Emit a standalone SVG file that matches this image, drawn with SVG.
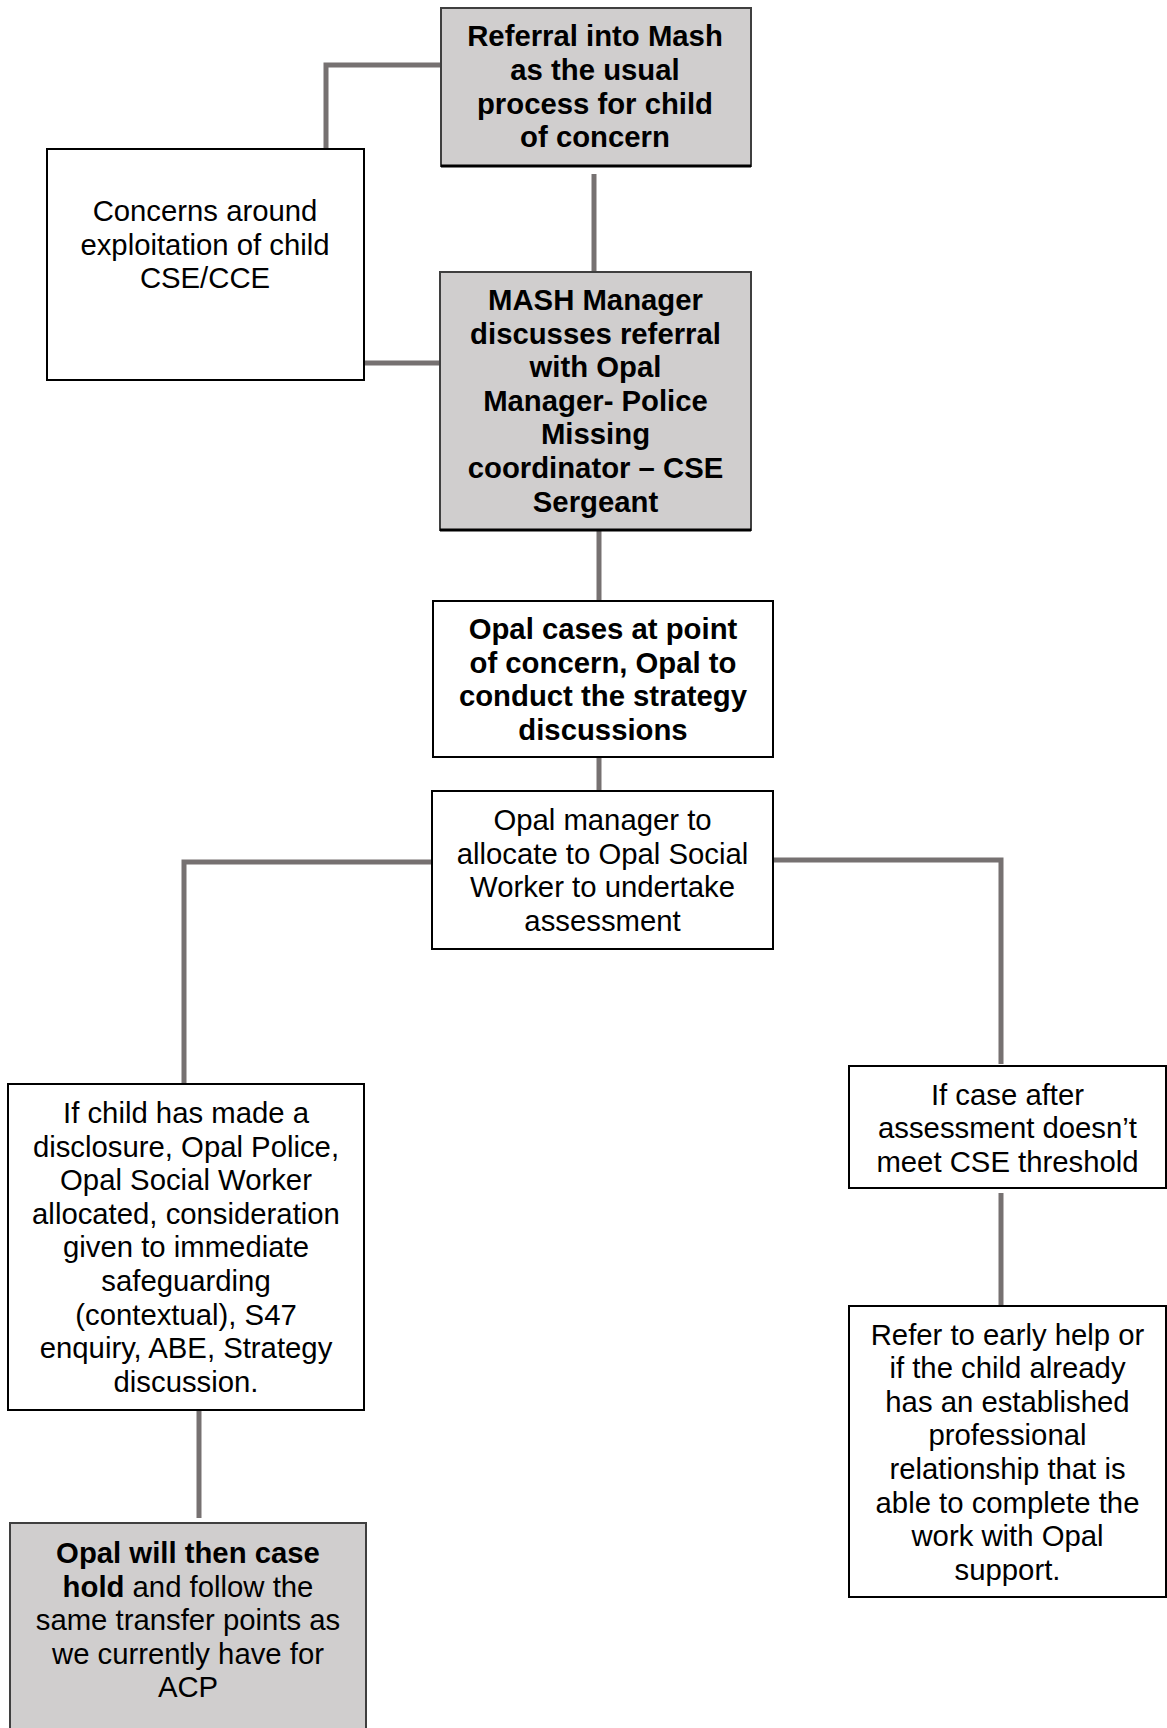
<svg xmlns="http://www.w3.org/2000/svg" width="1167" height="1728" viewBox="0 0 1167 1728">
<style>
.box{fill:#ffffff;stroke:#000000;stroke-width:2}
.gbox{fill:#d0cece;stroke:#3f3f3f;stroke-width:2}
.shadow{stroke:#000000;stroke-width:3}
.conn{fill:none;stroke:#767171;stroke-width:5;stroke-linejoin:miter}
text{font-family:"Liberation Sans",Arial,sans-serif;font-size:29.3px;fill:#000000;text-anchor:middle}
.b{font-weight:bold}
</style>
<rect width="1167" height="1728" fill="#ffffff"/>
<g id="connectors">
<path class="conn" d="M441,65 H326 V149"/>
<path class="conn" d="M594,174 V272"/>
<path class="conn" d="M364,363 H440"/>
<path class="conn" d="M599,530 V601"/>
<path class="conn" d="M599,757 V791"/>
<path class="conn" d="M432,862 H184 V1084"/>
<path class="conn" d="M773,860 H1001 V1064"/>
<path class="conn" d="M1001,1193 V1306"/>
<path class="conn" d="M199,1404 V1518"/>
</g>
<g id="referral">
<rect class="gbox" x="441" y="8" width="310" height="158"/>
<line class="shadow" x1="441" y1="166" x2="751" y2="166"/>
<text class="b" x="595" y="46">Referral into Mash</text>
<text class="b" x="595" y="80">as the usual</text>
<text class="b" x="595" y="113.5">process for child</text>
<text class="b" x="595" y="147">of concern</text>
</g>
<g id="concerns">
<rect class="box" x="47" y="149" width="317" height="231"/>
<text x="205" y="221">Concerns around</text>
<text x="205" y="254.5">exploitation of child</text>
<text x="205" y="288">CSE/CCE</text>
</g>
<g id="mash">
<rect class="gbox" x="440" y="272" width="311" height="258"/>
<line class="shadow" x1="440" y1="530" x2="751" y2="530"/>
<text class="b" x="595.5" y="310">MASH Manager</text>
<text class="b" x="595.5" y="343.6">discusses referral</text>
<text class="b" x="595.5" y="377.2">with Opal</text>
<text class="b" x="595.5" y="410.8">Manager- Police</text>
<text class="b" x="595.5" y="444.4">Missing</text>
<text class="b" x="595.5" y="478">coordinator – CSE</text>
<text class="b" x="595.5" y="511.6">Sergeant</text>
</g>
<g id="opal-cases">
<rect class="box" x="433" y="601" width="340" height="156"/>
<text class="b" x="603" y="639">Opal cases at point</text>
<text class="b" x="603" y="672.6">of concern, Opal to</text>
<text class="b" x="603" y="706.2">conduct the strategy</text>
<text class="b" x="603" y="739.8">discussions</text>
</g>
<g id="opal-manager">
<rect class="box" x="432" y="791" width="341" height="158"/>
<text x="602.5" y="830">Opal manager to</text>
<text x="602.5" y="863.6">allocate to Opal Social</text>
<text x="602.5" y="897.2">Worker to undertake</text>
<text x="602.5" y="930.8">assessment</text>
</g>
<g id="disclosure">
<rect class="box" x="8" y="1084" width="356" height="326"/>
<text x="186" y="1123">If child has made a</text>
<text x="186" y="1156.6">disclosure, Opal Police,</text>
<text x="186" y="1190.2">Opal Social Worker</text>
<text x="186" y="1223.8">allocated, consideration</text>
<text x="186" y="1257.4">given to immediate</text>
<text x="186" y="1291">safeguarding</text>
<text x="186" y="1324.6">(contextual), S47</text>
<text x="186" y="1358.2">enquiry, ABE, Strategy</text>
<text x="186" y="1391.8">discussion.</text>
</g>
<g id="threshold">
<rect class="box" x="849" y="1066" width="317" height="122"/>
<text x="1007.5" y="1104.5">If case after</text>
<text x="1007.5" y="1138">assessment doesn’t</text>
<text x="1007.5" y="1171.5">meet CSE threshold</text>
</g>
<g id="refer">
<rect class="box" x="849" y="1306" width="317" height="291"/>
<text x="1007.5" y="1344.5">Refer to early help or</text>
<text x="1007.5" y="1378.1">if the child already</text>
<text x="1007.5" y="1411.7">has an established</text>
<text x="1007.5" y="1445.3">professional</text>
<text x="1007.5" y="1478.9">relationship that is</text>
<text x="1007.5" y="1512.5">able to complete the</text>
<text x="1007.5" y="1546.1">work with Opal</text>
<text x="1007.5" y="1579.7">support.</text>
</g>
<g id="case-hold">
<rect class="gbox" x="10" y="1523" width="356" height="220"/>
<text x="188" y="1563"><tspan class="b">Opal will then case</tspan></text>
<text x="188" y="1596.6"><tspan class="b">hold</tspan> and follow the</text>
<text x="188" y="1630.2">same transfer points as</text>
<text x="188" y="1663.8">we currently have for</text>
<text x="188" y="1697.4">ACP</text>
</g>
</svg>
